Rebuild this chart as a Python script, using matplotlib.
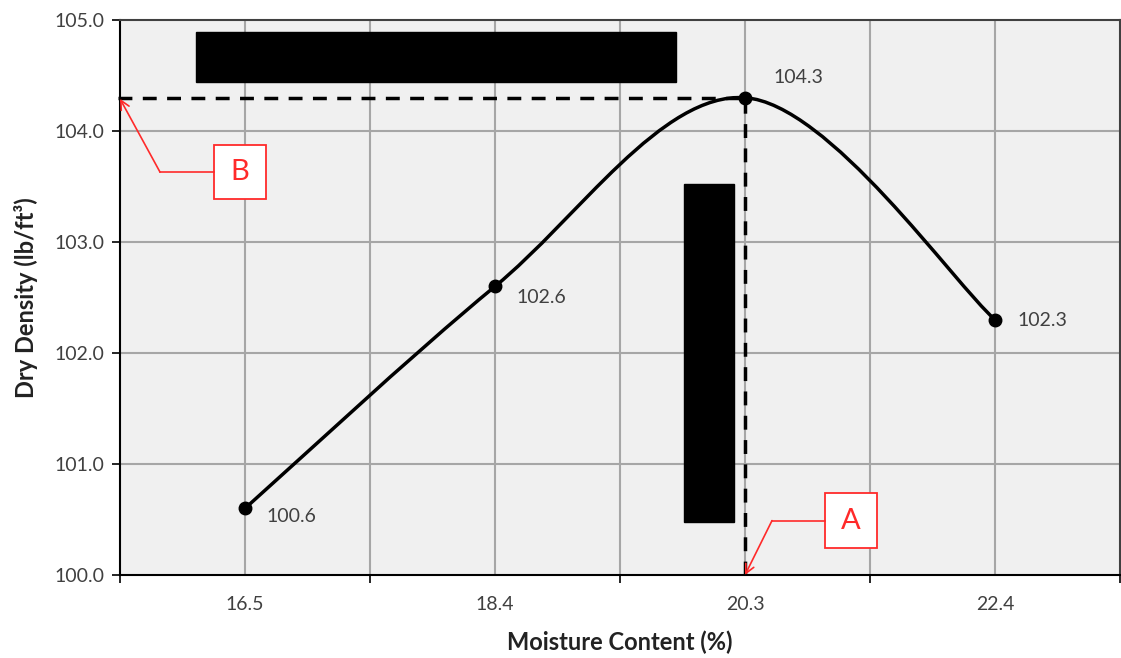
#!/usr/bin/env python
import numpy as np
import matplotlib
matplotlib.use("Agg")
import matplotlib.pyplot as plt
from matplotlib.path import Path
from matplotlib.patches import PathPatch, Rectangle

# proctor test values
moisture = ["16.5", "18.4", "20.3", "22.4"]
density = [100.6, 102.6, 104.3, 102.3]
labels = ["100.6", "102.6", "104.3", "102.3"]
max_density = 104.3

plt.rcParams['font.family'] = ['Lato', 'DejaVu Sans']


def smooth_path(x, y):
    """excel style smoothed line: bezier with control points from neighbours"""
    pts = np.column_stack([x, y]).astype(float)
    n = len(pts)
    verts = [pts[0]]
    codes = [Path.MOVETO]
    for i in range(n - 1):
        p0 = pts[max(i - 1, 0)]
        p1 = pts[i]
        p2 = pts[i + 1]
        p3 = pts[min(i + 2, n - 1)]
        c1 = p1 + (p2 - p0) / 6.0
        c2 = p2 - (p3 - p1) / 6.0
        verts += [c1, c2, p2]
        codes += [Path.CURVE4] * 3
    return Path(verts, codes)


fig = plt.figure(figsize=(11.21, 6.58), dpi=100)
ax = fig.add_axes([120 / 1121, 83 / 658, 1000 / 1121, 555 / 658])
ax.set_facecolor('#f0f0f0')

xpos = np.arange(len(moisture))
ax.set_xlim(-0.5, len(moisture) - 0.5)
ax.set_ylim(100, 105)

# grid every half category, ticks only on category edges
for gx in np.arange(0, len(moisture) - 0.5, 0.5):
    ax.axvline(gx, color='#a6a6a6', lw=1.5, zorder=1)
for gy in range(101, 105):
    ax.axhline(gy, color='#a6a6a6', lw=1.5, zorder=1)

ax.set_xticks(np.arange(-0.5, len(moisture), 1.0))
ax.set_xticklabels([])
ax.set_xticks(xpos, minor=True)
ax.set_xticklabels(moisture, minor=True)
ax.tick_params(axis='x', which='major', length=6, width=1.2, color='black')
ax.tick_params(axis='x', which='minor', length=0, pad=15, labelsize=14,
               labelcolor='#404040')
ax.set_yticks(np.arange(100, 105.5, 1.0))
ax.set_yticklabels(['%.1f' % v for v in np.arange(100, 105.5, 1.0)])
ax.tick_params(axis='y', length=6, width=1.2, labelsize=14,
               labelcolor='#404040', pad=5)

for s in ['left', 'bottom']:
    ax.spines[s].set_color('black')
    ax.spines[s].set_linewidth(1.5)
for s in ['top', 'right']:
    ax.spines[s].set_color('#404040')
    ax.spines[s].set_linewidth(1.5)

# dashed lines to the max dry density
peak = int(np.argmax(density))
ax.plot([-0.51, xpos[peak]], [max_density, max_density], color='black',
        lw=2.5, ls=(0, (4, 3)), zorder=3, clip_on=False)
ax.plot([xpos[peak], xpos[peak]], [100, max_density], color='black',
        lw=2.5, ls=(0, (4, 3)), zorder=3)

ax.add_patch(PathPatch(smooth_path(xpos, density), facecolor='none',
                       edgecolor='black', lw=2.5, zorder=4))
ax.plot(xpos, density, 'o', color='black', ms=9, zorder=5)

offsets = [(21, -8), (21, -11), (28, 20), (22, -1)]
for xi, yi, lab, off in zip(xpos, density, labels, offsets):
    ax.annotate(lab, (xi, yi), xytext=off, textcoords='offset pixels',
                ha='left', va='center', fontsize=14, color='#404040',
                zorder=6)

# redaction boxes
ax.add_patch(Rectangle((0.076, 0.888), 0.48, 0.09, transform=ax.transAxes,
                       color='black', zorder=7))
ax.add_patch(Rectangle((0.564, 0.0955), 0.05, 0.609, transform=ax.transAxes,
                       color='black', zorder=7))

# red callouts A and B
red = '#ff2a2a'
callouts = [
    # letter, box centre, elbow, arrow tip
    ('B', (-0.02, 103.63), (-0.34, 103.63), (-0.5, max_density - 0.01)),
    ('A', (2.424, 100.49), (2.108, 100.49), (xpos[peak], 100.0)),
]
for letter, (bx, by), (ex, ey), tip in callouts:
    w, h = 0.21, 0.49
    ax.add_patch(Rectangle((bx - w / 2, by - h / 2), w, h, facecolor='white',
                           edgecolor=red, lw=1.3, zorder=8))
    ax.text(bx, by, letter, color=red, fontsize=21, ha='center', va='center',
            zorder=9)
    ax.plot([bx - w / 2, ex], [by, ey], color=red, lw=1.2, zorder=8)
    ax.annotate('', xy=tip, xytext=(ex, ey),
                arrowprops=dict(arrowstyle='->', color=red, lw=1.2,
                                mutation_scale=16, shrinkA=0, shrinkB=0),
                zorder=8, annotation_clip=False)

ax.set_xlabel('Moisture Content (%)', fontsize=17, fontweight='bold',
              color='#222222')
ax.xaxis.set_label_coords(0.5, -0.1)
ax.set_ylabel('Dry Density (lb/ft\u00b3)', fontsize=17, fontweight='bold',
              color='#222222')
ax.yaxis.set_label_coords(-0.082, 0.5)

fig.savefig('out.png', dpi=100, facecolor='white')
